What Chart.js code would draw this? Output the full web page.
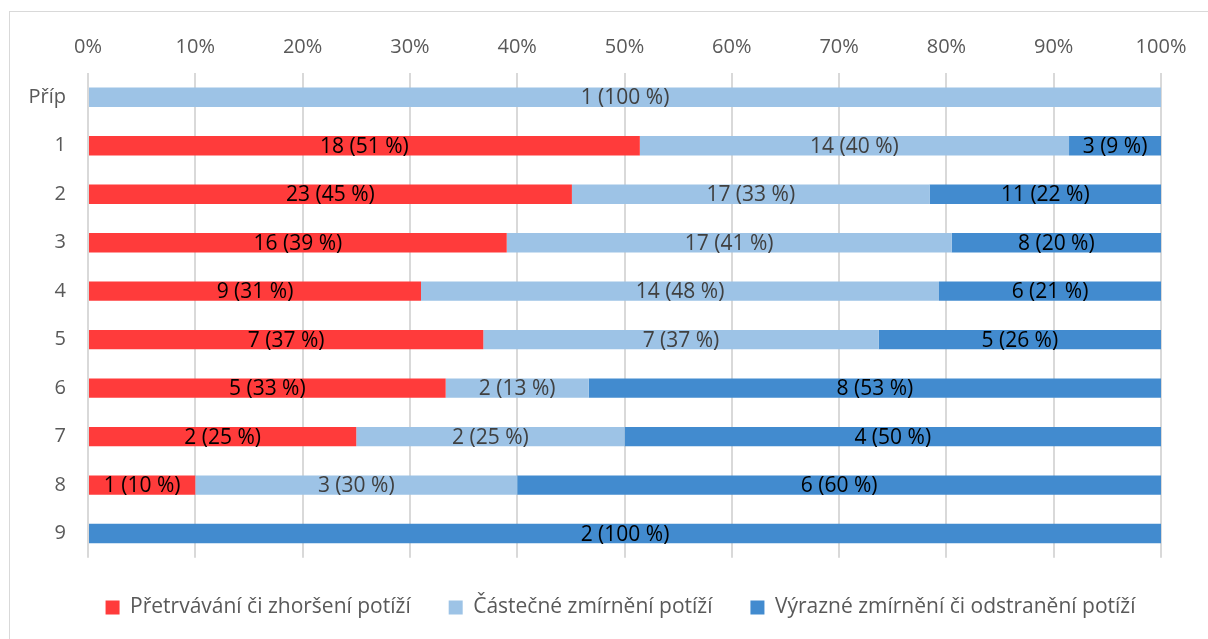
<!DOCTYPE html>
<html>
<head>
<meta charset="utf-8">
<script src="https://cdn.jsdelivr.net/npm/chart.js@4"></script>
<style>
  html, body { margin: 0; padding: 0; background: #fff; }
  #wrap { position: relative; width: 1208px; height: 639px; overflow: hidden; }
  #frame { position: absolute; left: 9px; top: 11px; width: 1300px; height: 700px; border: 1px solid #d9d9d9; }
  canvas { position: absolute; left: 0; top: 0; }
</style>
</head>
<body>
<div id="wrap">
  <div id="frame"></div>
  <canvas id="chart" width="1208" height="639"></canvas>
</div>
<script>
// categories (rows) and counts for each group
const categories = ['Příp', '1', '2', '3', '4', '5', '6', '7', '8', '9'];
const seriesNames = [
    'Přetrvávání či zhoršení potíží',
    'Částečné zmírnění potíží',
    'Výrazné zmírnění či odstranění potíží'
];
const worse = [0, 18, 23, 16, 9, 7, 5, 2, 1, 0];
const partial = [1, 14, 17, 17, 14, 7, 2, 2, 3, 0];
const strong = [0, 3, 11, 8, 6, 5, 8, 4, 6, 2];
const tickLabels = ['0%', '10%', '20%', '30%', '40%', '50%', '60%', '70%', '80%', '90%', '100%'];

const colors = ['#FF3B3B', '#9DC3E6', '#428BCF'];
const labelColors = ['#000000', '#404040', '#000000'];
const FONT = '"Open Sans", "Noto Sans", sans-serif';

const counts = [worse, partial, strong];
const totals = categories.map((c, i) => worse[i] + partial[i] + strong[i]);

const datasets = counts.map((arr, k) => ({
    label: seriesNames[k],
    data: arr.map((v, i) => v / totals[i] * 100),
    counts: arr,
    backgroundColor: colors[k],
    borderWidth: 0,
    barPercentage: 0.4,
    categoryPercentage: 1.0
}));

// draws "n (xx %)" in the middle of every segment
const barLabels = {
    id: 'barLabels',
    afterDatasetsDraw(chart) {
        const ctx = chart.ctx;
        ctx.save();
        ctx.font = '21px ' + FONT;
        ctx.textAlign = 'center';
        ctx.textBaseline = 'middle';
        chart.data.datasets.forEach((ds, k) => {
            const meta = chart.getDatasetMeta(k);
            meta.data.forEach((bar, i) => {
                const n = ds.counts[i];
                if (!n) return;
                const pct = Math.round(ds.data[i]);
                const x = (bar.x + bar.base) / 2;
                ctx.fillStyle = labelColors[k];
                ctx.fillText(n + ' (' + pct + ' %)', x, bar.y + 1);
            });
        });
        ctx.restore();
    }
};

// legend sits a bit right of the canvas centre in the original
const legendShift = {
    id: 'legendShift',
    afterLayout(chart) {
        if (chart.legend) {
            chart.legend.left += 35;
            chart.legend.right += 35;
        }
    }
};

new Chart(document.getElementById('chart'), {
    type: 'bar',
    data: { labels: categories, datasets: datasets },
    options: {
        indexAxis: 'y',
        responsive: false,
        animation: false,
        layout: { padding: { left: 10, right: 47, top: 18, bottom: 11 } },
        scales: {
            x: {
                position: 'top',
                stacked: true,
                min: 0,
                max: 100,
                border: { display: false },
                grid: { color: '#d9d9d9', lineWidth: 2, drawTicks: false },
                ticks: {
                    stepSize: 10,
                    padding: 14,
                    color: '#595959',
                    font: { family: FONT, size: 20 },
                    callback: (v, i) => tickLabels[i]
                },
                afterFit(scale) { scale.height = 55; }
            },
            y: {
                stacked: true,
                border: { display: false },
                grid: { display: false },
                ticks: {
                    padding: 14,
                    color: '#595959',
                    font: { family: FONT, size: 20 }
                },
                afterFit(scale) { scale.width = 78; }
            }
        },
        plugins: {
            legend: {
                position: 'bottom',
                title: { display: true, text: ' ', font: { size: 1 }, padding: { top: 0, bottom: 0 } },
                labels: {
                    boxWidth: 14,
                    boxHeight: 14,
                    padding: 38,
                    color: '#595959',
                    font: { family: FONT, size: 21 }
                }
            },
            tooltip: { enabled: false }
        }
    },
    plugins: [barLabels, legendShift]
});
</script>
</body>
</html>
